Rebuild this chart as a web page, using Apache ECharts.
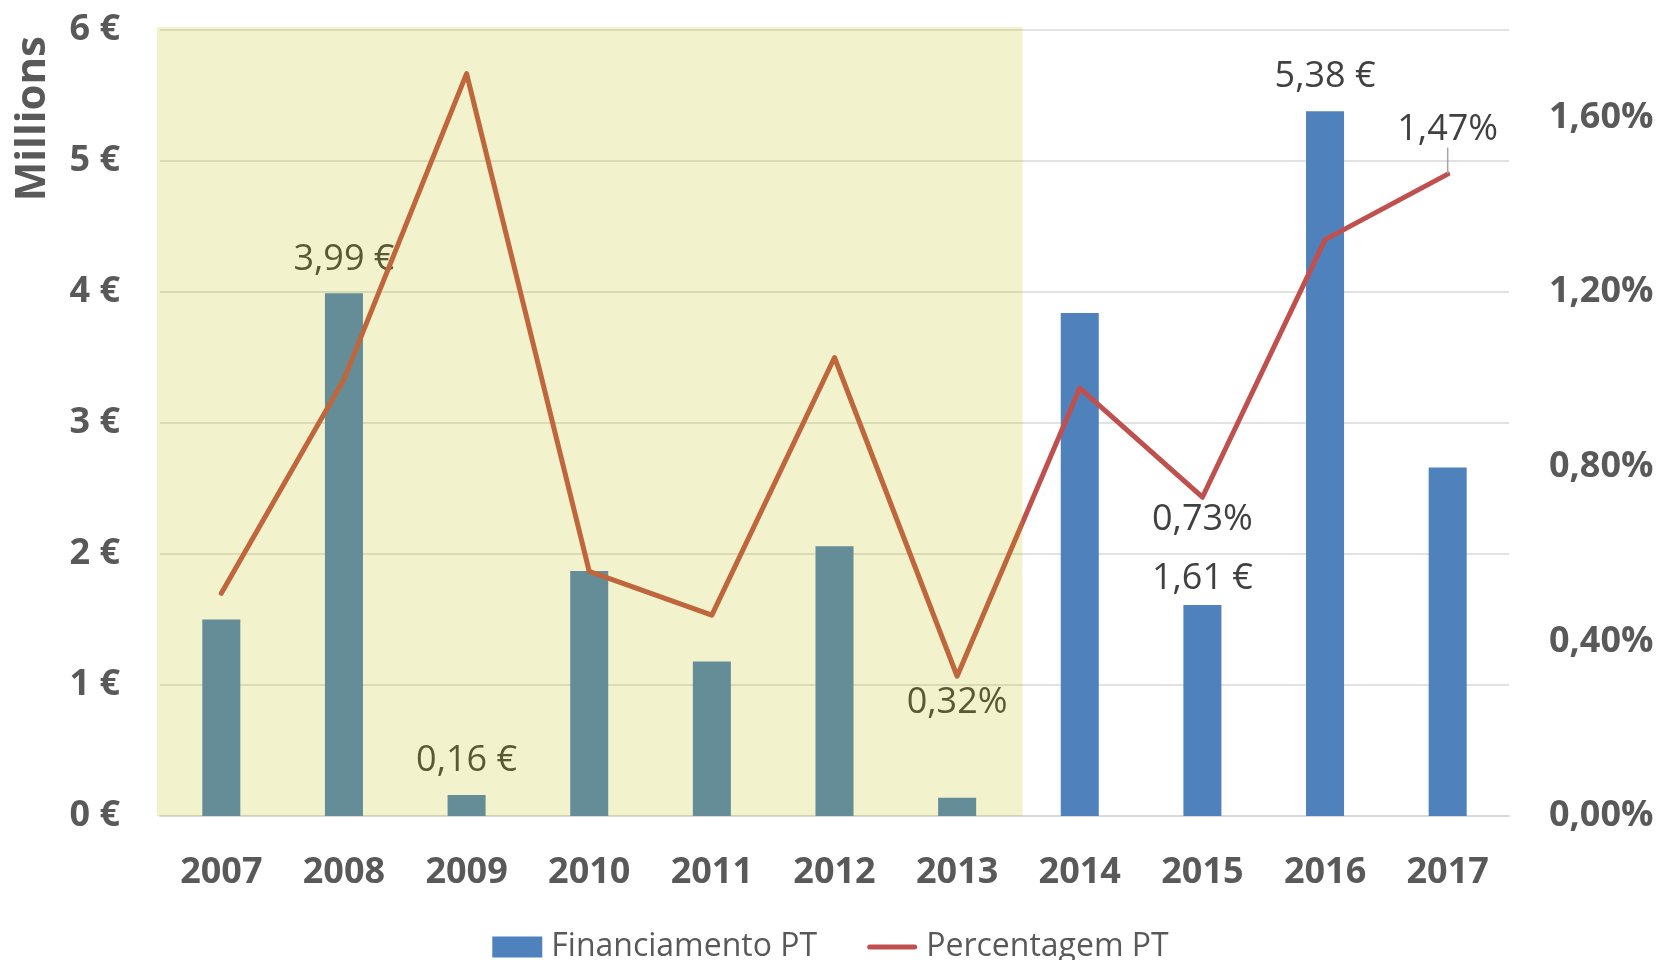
<!DOCTYPE html>
<html>
<head>
<meta charset="utf-8">
<script src="https://cdn.jsdelivr.net/npm/echarts@6/dist/echarts.min.js"></script>
<style>html,body{margin:0;padding:0;background:#fff}#c{width:1661px;height:960px}</style>
</head>
<body>
<div id="c"></div>
<script>
// ---- data ----
const years = ['2007','2008','2009','2010','2011','2012','2013','2014','2015','2016','2017'];
const financiamento = [1.50, 3.99, 0.16, 1.87, 1.18, 2.06, 0.14, 3.84, 1.61, 5.38, 2.66]; // millions €
const percentagem = [0.51, 1.00, 1.70, 0.56, 0.46, 1.05, 0.32, 0.98, 0.73, 1.32, 1.47]; // %
const barLabelYears = ['2008','2009','2015','2016'];
const lineLabelYears = ['2013','2015','2017'];
const shadedFrom = '2007', shadedTo = '2013';
const leftTicks = [0,1,2,3,4,5,6];
const rightTicks = [0,0.4,0.8,1.2,1.6];

const FONT = '"Open Sans", "Noto Sans", sans-serif';
const fmtEuro = v => v.toFixed(2).replace('.', ',') + ' €';
const fmtPct = v => v.toFixed(2).replace('.', ',') + '%';

const barData = financiamento.map((v, i) => ({
  value: v,
  label: { show: barLabelYears.includes(years[i]), distance: years[i] === '2015' ? 8 : 16 }
}));
const linePos = { '2013': 'bottom', '2015': 'bottom', '2017': 'top' };
const lineData = percentagem.map((v, i) => ({
  value: v,
  label: {
    show: lineLabelYears.includes(years[i]),
    position: linePos[years[i]] || 'top',
    distance: years[i] === '2015' ? 4 : 8
  },
  labelLine: { show: years[i] === '2017' }
}));

const chart = echarts.init(document.getElementById('c'), null, { renderer: 'canvas' });
chart.setOption({
  animation: false,
  backgroundColor: '#ffffff',
  textStyle: { fontFamily: FONT },
  grid: { left: 160, right: 152, top: 30, bottom: 144 },
  graphic: [{
    type: 'text',
    left: 12, top: 36,
    rotation: Math.PI / 2,
    style: { text: 'Millions', font: 'bold 42px ' + FONT, fill: '#595959' }
  }],
  legend: {
    data: [
      { name: 'Financiamento PT', icon: 'rect' },
      { name: 'Percentagem PT', icon: 'path://M2.5,0 L47.5,0 A2.5,2.5 0 0 1 47.5,5 L2.5,5 A2.5,2.5 0 0 1 2.5,0 Z' }
    ],
    left: 'center',
    top: 926,
    itemWidth: 50,
    itemHeight: 21,
    itemGap: 50,
    textStyle: { fontSize: 32, color: '#595959', fontFamily: FONT, padding: [0, 0, 0, 4] }
  },
  xAxis: {
    type: 'category',
    data: years,
    boundaryGap: true,
    axisTick: { show: false },
    axisLine: { lineStyle: { color: '#D9D9D9', width: 2 } },
    axisLabel: { fontSize: 36, fontWeight: 'bold', color: '#595959', margin: 39, fontFamily: FONT }
  },
  yAxis: [{
    type: 'value',
    min: leftTicks[0], max: leftTicks[leftTicks.length - 1], interval: 1,
    axisLine: { show: false }, axisTick: { show: false },
    splitLine: { lineStyle: { color: '#D9D9D9', width: 1.5 } },
    axisLabel: { fontSize: 36, fontWeight: 'bold', color: '#595959', margin: 40, fontFamily: FONT,
      formatter: v => v + ' €' }
  }, {
    type: 'value',
    min: rightTicks[0], max: 1.8, interval: 0.4,
    axisLine: { show: false }, axisTick: { show: false },
    splitLine: { show: false },
    axisLabel: { fontSize: 36, fontWeight: 'bold', color: '#595959', margin: 40, fontFamily: FONT,
      showMaxLabel: false,
      formatter: v => (rightTicks.some(t => Math.abs(t - v) < 1e-6) ? fmtPct(v) : '') }
  }],
  series: [{
    name: 'Financiamento PT',
    type: 'bar',
    data: barData,
    barWidth: '31%',
    itemStyle: { color: '#4F81BD' },
    label: { position: 'top', fontSize: 36, color: '#404040', fontFamily: FONT,
      formatter: p => fmtEuro(p.value) }
  }, {
    name: 'Percentagem PT',
    type: 'line',
    yAxisIndex: 1,
    data: lineData,
    symbol: 'circle',
    symbolSize: 1,
    showSymbol: true,
    lineStyle: { color: '#C0504D', width: 5, cap: 'round', join: 'round' },
    itemStyle: { color: '#C0504D' },
    label: { fontSize: 36, color: '#404040', fontFamily: FONT, formatter: p => fmtPct(p.value) },
    labelLayout: p => (p.dataIndex === years.length - 1 ? { dy: -18 } : {}),
    labelLine: { lineStyle: { color: '#A6A6A6', width: 1.5 } }
  }, {
    name: '_shade',
    type: 'custom',
    z: 20,
    silent: true,
    data: [[years.indexOf(shadedFrom), years.indexOf(shadedTo)]],
    encode: { x: [0, 1] },
    renderItem: (params, api) => {
      const cs = params.coordSys;
      const half = api.size([1, 0])[0] / 2;
      const x0 = api.coord([api.value(0), 0])[0] - half - 3;
      const x1 = api.coord([api.value(1), 0])[0] + half + 4;
      return {
        type: 'rect',
        shape: { x: x0, y: cs.y - 3, width: x1 - x0, height: cs.height + 3 },
        style: { fill: 'rgba(190,190,0,0.2)' }
      };
    }
  }]
});
</script>
</body>
</html>
